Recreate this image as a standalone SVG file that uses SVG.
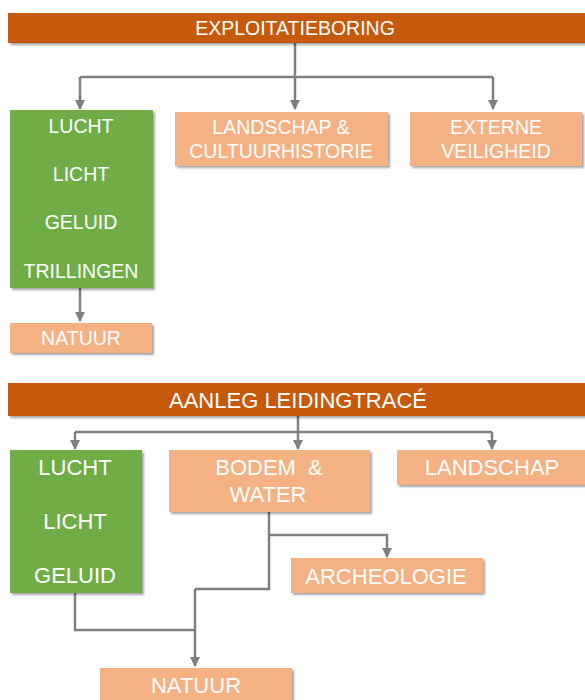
<svg xmlns="http://www.w3.org/2000/svg" width="585" height="700" viewBox="0 0 585 700">
<defs>
<filter id="sh" x="-10%" y="-10%" width="130%" height="140%">
<feDropShadow dx="2" dy="2" stdDeviation="1.2" flood-color="#000" flood-opacity="0.35"/>
</filter>
<marker id="ah" viewBox="0 0 10 10" refX="9" refY="5" markerWidth="4" markerHeight="4" orient="auto">
<path d="M0,0 L10,5 L0,10 Z" fill="#7F7F7F"/>
</marker>
<style>
.bar{fill:#C55A11;filter:url(#sh)}
.grn{fill:#70AD47;filter:url(#sh)}
.lor{fill:#F4B183;filter:url(#sh)}
text{font-family:"Liberation Sans",Arial,sans-serif;fill:#FFFFFF;text-anchor:middle;white-space:pre}
.s1{font-size:19.5px}
.s2{font-size:22px}
.c{fill:none;stroke:#7F7F7F;stroke-width:2.5}
.a{marker-end:url(#ah)}
</style>
</defs>
<rect width="585" height="700" fill="#FFFFFF"/>

<g id="connectors">
<path class="c" d="M295,43 V77"/>
<path class="c" d="M80,77 H493"/>
<path class="c a" d="M80,77 V109"/>
<path class="c a" d="M295,77 V109"/>
<path class="c a" d="M493,77 V109"/>
<path class="c a" d="M80,288 V321"/>

<path class="c" d="M298,416 V432"/>
<path class="c" d="M75,432 H492"/>
<path class="c a" d="M75,432 V449"/>
<path class="c a" d="M298,432 V449"/>
<path class="c a" d="M492,432 V449"/>
<path class="c" d="M269,512 V589 H195"/>
<path class="c a" d="M269,535 H387 V557"/>
<path class="c" d="M75,593 V630 H195"/>
<path class="c a" d="M195,589 V666"/>
</g>

<g id="exploitatieboring">
<rect class="bar" x="8" y="13" width="580" height="30"/>
<text class="s1" x="295" y="35">EXPLOITATIEBORING</text>
</g>
<g id="lucht1">
<rect class="grn" x="10" y="110" width="143" height="178"/>
<text class="s1" x="81" y="133">LUCHT</text>
<text class="s1" x="81" y="181">LICHT</text>
<text class="s1" x="81" y="229">GELUID</text>
<text class="s1" x="81" y="278">TRILLINGEN</text>
</g>
<g id="landschap1">
<rect class="lor" x="175" y="112" width="213" height="54"/>
<text class="s1" x="281" y="134">LANDSCHAP &amp;</text>
<text class="s1" x="281" y="158">CULTUURHISTORIE</text>
</g>
<g id="externe">
<rect class="lor" x="410" y="112" width="172" height="54"/>
<text class="s1" x="496" y="134">EXTERNE</text>
<text class="s1" x="496" y="158">VEILIGHEID</text>
</g>
<g id="natuur1">
<rect class="lor" x="10" y="323" width="142" height="30"/>
<text class="s1" x="81" y="345">NATUUR</text>
</g>

<g id="aanleg">
<rect class="bar" x="8" y="383" width="580" height="33"/>
<text class="s2" x="298" y="408">AANLEG LEIDINGTRACÉ</text>
</g>
<g id="lucht2">
<rect class="grn" x="10" y="450" width="132" height="143"/>
<text class="s2" x="75" y="475">LUCHT</text>
<text class="s2" x="75" y="529">LICHT</text>
<text class="s2" x="75" y="583">GELUID</text>
</g>
<g id="bodem">
<rect class="lor" x="169" y="450" width="201" height="62"/>
<text class="s2" x="269" y="475">BODEM  &amp;</text>
<text class="s2" x="268" y="502">WATER</text>
</g>
<g id="landschap2">
<rect class="lor" x="397" y="450" width="190" height="35"/>
<text class="s2" x="492" y="475">LANDSCHAP</text>
</g>
<g id="archeologie">
<rect class="lor" x="291" y="558" width="192" height="35"/>
<text class="s2" x="386" y="584">ARCHEOLOGIE</text>
</g>
<g id="natuur2">
<rect class="lor" x="100" y="668" width="192" height="40"/>
<text class="s2" x="196" y="693">NATUUR</text>
</g>
</svg>
